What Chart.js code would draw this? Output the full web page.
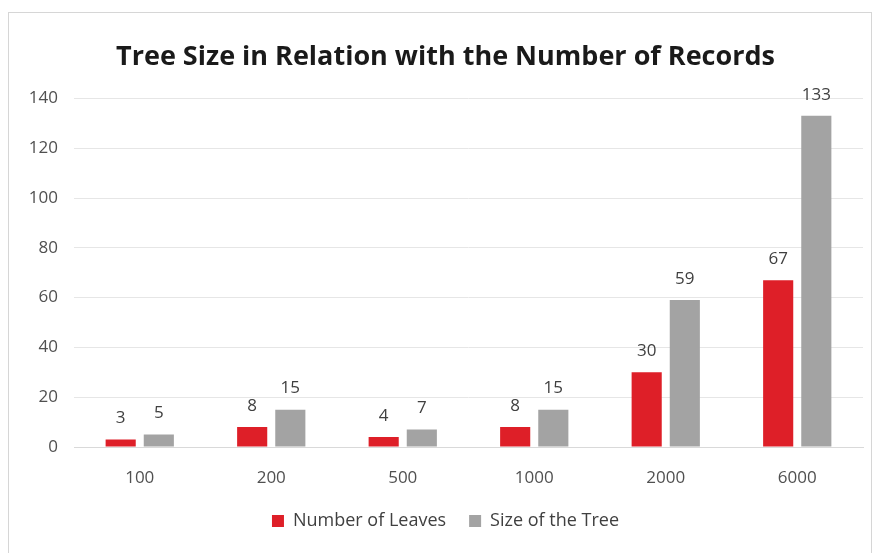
<!DOCTYPE html>
<html>
<head>
<meta charset="utf-8">
<script src="https://cdn.jsdelivr.net/npm/chart.js@4"></script>
<style>
  html, body { margin: 0; padding: 0; background: #fff; }
  #wrap { position: relative; width: 883px; height: 553px; }
  #frame {
    position: absolute; left: 8px; top: 12px; width: 864px; height: 560px;
    border: 1px solid #d6d6d6; box-sizing: border-box;
  }
  canvas { position: absolute; left: 0; top: 0; }
</style>
</head>
<body>
<div id="wrap">
  <div id="frame"></div>
  <canvas id="chart" width="883" height="553"></canvas>
</div>
<script>
// --------------------------------------------------
//  DATA
// --------------------------------------------------
const records = ["100", "200", "500", "1000", "2000", "6000"];
const numberOfLeaves = [3, 8, 4, 8, 30, 67];
const sizeOfTree = [5, 15, 7, 15, 59, 133];
const yTicks = [0, 20, 40, 60, 80, 100, 120, 140];

const FONT = "'Open Sans', 'Liberation Sans', sans-serif";

// draws the value above each bar (no datalabels plugin available offline)
const valueLabels = {
    id: "valueLabels",
    afterDatasetsDraw(chart) {
        const ctx = chart.ctx;
        ctx.save();
        ctx.font = "17px " + FONT;
        ctx.fillStyle = "#404040";
        ctx.textAlign = "center";
        ctx.textBaseline = "middle";
        chart.data.datasets.forEach((ds, i) => {
            chart.getDatasetMeta(i).data.forEach((bar, j) => {
                ctx.fillText(ds.data[j], bar.x, bar.y - 21);
            });
        });
        ctx.restore();
    }
};

new Chart(document.getElementById("chart"), {
    type: "bar",
    data: {
        labels: records,
        datasets: [
            {
                label: "Number of Leaves",
                data: numberOfLeaves,
                backgroundColor: "#de1f28",
                categoryPercentage: 0.58,
                barPercentage: 0.79
            },
            {
                label: "Size of the Tree",
                data: sizeOfTree,
                backgroundColor: "#a3a3a3",
                categoryPercentage: 0.58,
                barPercentage: 0.79
            }
        ]
    },
    options: {
        responsive: false,
        animation: false,
        layout: { padding: { left: 28, right: 20, top: 20, bottom: 13 } },
        plugins: {
            title: {
                display: true,
                text: "Tree Size in Relation with the Number of Records",
                font: { family: FONT, size: 27, weight: "bold" },
                color: "#1a1a1a",
                padding: { top: 21, bottom: 25 }
            },
            legend: {
                position: "bottom",
                labels: {
                    font: { family: FONT, size: 18 },
                    color: "#404040",
                    boxWidth: 12,
                    boxHeight: 12,
                    padding: 23
                }
            },
            tooltip: { enabled: false }
        },
        scales: {
            x: {
                grid: { display: false },
                border: { display: true, color: "#d9d9d9" },
                ticks: { font: { family: FONT, size: 17 }, color: "#505050", padding: 13 },
                afterFit: axis => { axis.height = 42; }
            },
            y: {
                min: 0,
                max: 140,
                afterBuildTicks: axis => { axis.ticks = yTicks.map(v => ({ value: v })); },
                grid: { color: "#e6e6e6", drawTicks: false },
                border: { display: false },
                ticks: { font: { family: FONT, size: 17 }, color: "#505050", padding: 16 },
                afterFit: axis => { axis.width = 46; }
            }
        }
    },
    plugins: [valueLabels]
});
</script>
</body>
</html>
